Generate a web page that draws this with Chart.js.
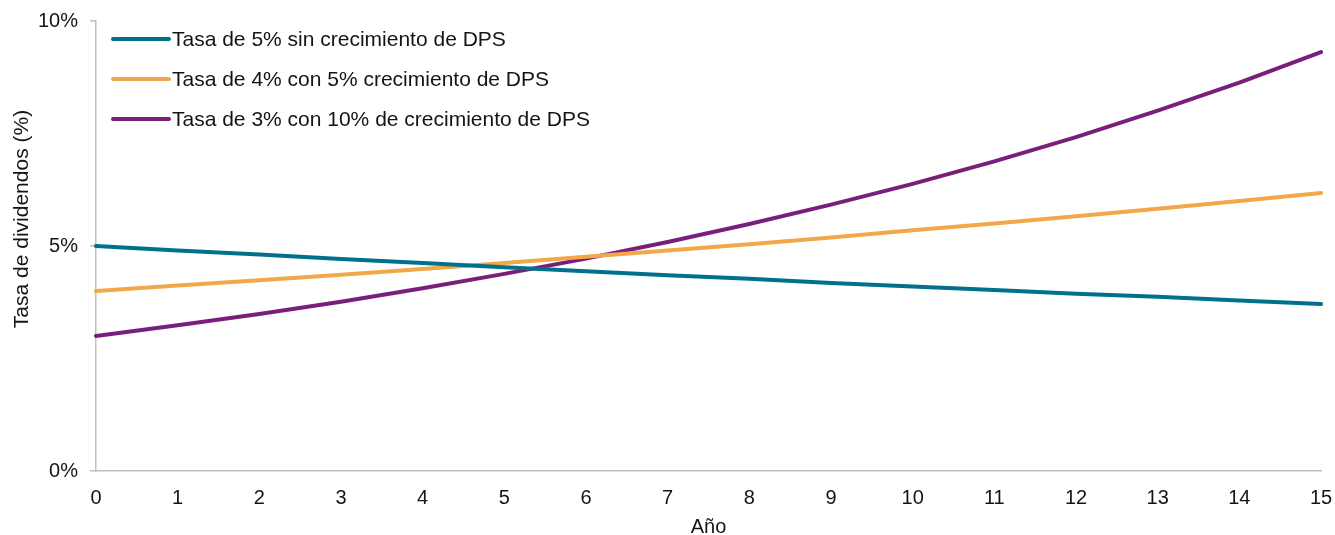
<!DOCTYPE html>
<html>
<head>
<meta charset="utf-8">
<script src="https://cdn.jsdelivr.net/npm/chart.js@4"></script>
<style>
  html, body { margin: 0; padding: 0; background: #ffffff; }
  #wrap { width: 1335px; height: 535px; position: relative; }
</style>
</head>
<body>
<div id="wrap"><canvas id="c" width="1335" height="535"></canvas></div>
<script>
// Years on the horizontal axis
const years = ['0','1','2','3','4','5','6','7','8','9','10','11','12','13','14','15'];

// Dividend yield (%) for each scenario
const yieldFlat = [5.00, 4.90, 4.81, 4.71, 4.62, 4.53, 4.44, 4.35, 4.27, 4.18, 4.10, 4.02, 3.94, 3.87, 3.79, 3.71];
const yield5Growth = [4.00, 4.12, 4.24, 4.36, 4.49, 4.62, 4.76, 4.90, 5.04, 5.19, 5.35, 5.50, 5.66, 5.83, 6.00, 6.18];
const yield10Growth = [3.00, 3.24, 3.49, 3.76, 4.06, 4.38, 4.72, 5.09, 5.49, 5.92, 6.38, 6.88, 7.42, 8.01, 8.63, 9.31];

const seriesLabels = [
  'Tasa de 5% sin crecimiento de DPS',
  'Tasa de 4% con 5% crecimiento de DPS',
  'Tasa de 3% con 10% de crecimiento de DPS'
];
const seriesColors = ['#00718A', '#F2A74B', '#7A1E7B'];

const yTickLabels = { 0: '0%', 5: '5%', 10: '10%' };
const yAxisTitle = 'Tasa de dividendos (%)';
const xAxisTitle = 'Año';

const FONT = '"Liberation Sans", Arial, sans-serif';
const TEXT = '#141414';
const AXIS_GREY = '#BFBFBF';

// Legend drawn inside the plot area, top-left
const insideLegend = {
  id: 'insideLegend',
  afterDraw(chart) {
    const ctx = chart.ctx;
    const area = chart.chartArea;
    ctx.save();
    ctx.font = '21px ' + FONT;
    ctx.textBaseline = 'middle';
    chart.data.datasets.forEach((ds, i) => {
      const y = area.top + 18 + i * 40;
      const x0 = area.left + 17;
      ctx.strokeStyle = ds.borderColor;
      ctx.lineWidth = 4;
      ctx.lineCap = 'round';
      ctx.beginPath();
      ctx.moveTo(x0, y);
      ctx.lineTo(x0 + 56, y);
      ctx.stroke();
      ctx.fillStyle = TEXT;
      ctx.fillText(ds.label, x0 + 59, y + 1);
    });
    ctx.restore();
  }
};

// Axis titles: rotated one along the left edge, horizontal one under the ticks
const axisTitles = {
  id: 'axisTitles',
  afterDraw(chart) {
    const ctx = chart.ctx;
    const area = chart.chartArea;
    ctx.save();
    ctx.font = '21px ' + FONT;
    ctx.fillStyle = TEXT;
    ctx.textAlign = 'center';
    ctx.textBaseline = 'middle';
    ctx.save();
    ctx.translate(22, 219);
    ctx.rotate(-Math.PI / 2);
    ctx.fillText(yAxisTitle, 0, 0);
    ctx.restore();
    ctx.font = '20px ' + FONT;
    ctx.fillText(xAxisTitle, (area.left + area.right) / 2, 527);
    ctx.restore();
  }
};

const datasets = [yieldFlat, yield5Growth, yield10Growth].map((vals, i) => ({
  label: seriesLabels[i],
  data: vals,
  borderColor: seriesColors[i],
  backgroundColor: seriesColors[i],
  borderWidth: 4,
  borderCapStyle: 'round',
  borderJoinStyle: 'round',
  pointRadius: 0,
  tension: 0,
  fill: false
}));

new Chart(document.getElementById('c'), {
  type: 'line',
  data: { labels: years, datasets },
  options: {
    responsive: false,
    animation: false,
    layout: { padding: { top: 21, right: 14, bottom: 0, left: 0 } },
    plugins: {
      legend: { display: false },
      tooltip: { enabled: false },
      title: { display: false }
    },
    scales: {
      x: {
        offset: false,
        grid: { display: false },
        border: { display: true, color: AXIS_GREY, width: 1.5 },
        ticks: {
          color: TEXT,
          font: { family: FONT, size: 20 },
          padding: 7,
          maxRotation: 0,
          autoSkip: false
        },
        afterFit(scale) {
          scale.height = 64;
          scale.paddingLeft = 0;
          scale.paddingRight = 0;
        }
      },
      y: {
        min: 0,
        max: 10,
        grid: { drawOnChartArea: false, drawTicks: true, tickLength: 6, color: AXIS_GREY, lineWidth: 1.5 },
        border: { display: true, color: AXIS_GREY, width: 1.5 },
        ticks: {
          stepSize: 5,
          color: TEXT,
          font: { family: FONT, size: 20 },
          padding: 12,
          callback: (v) => yTickLabels[v] !== undefined ? yTickLabels[v] : ''
        },
        afterFit(scale) {
          scale.width = 96;
          scale.paddingTop = 0;
          scale.paddingBottom = 0;
        }
      }
    }
  },
  plugins: [insideLegend, axisTitles]
});
</script>
</body>
</html>
